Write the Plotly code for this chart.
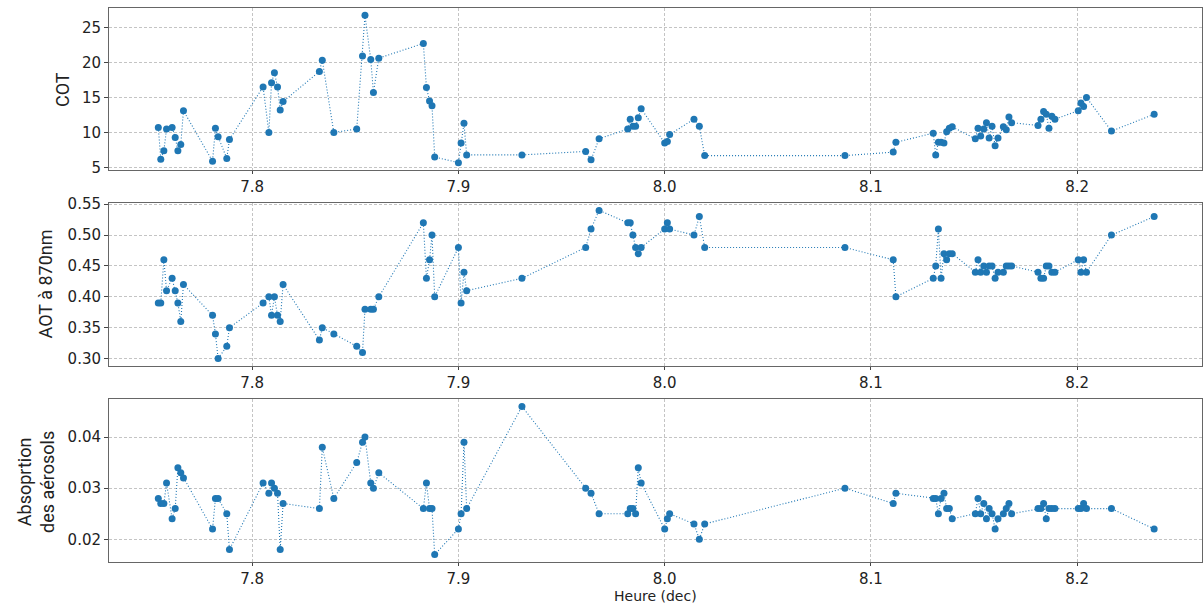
import plotly.graph_objects as go
from plotly.subplots import make_subplots

heure = [
    7.7545, 7.7557, 7.7572, 7.7585, 7.7612, 7.7627, 7.7640, 7.7654, 7.7667,
    7.7808, 7.7822, 7.7835, 7.7877, 7.7890,
    7.8053, 7.8081, 7.8094, 7.8108, 7.8123, 7.8136, 7.8150,
    7.8326, 7.8340, 7.8396, 7.8507, 7.8535, 7.8547, 7.8575, 7.8588, 7.8614,
    7.8830, 7.8845, 7.8860, 7.8872, 7.8885,
    7.9000, 7.9013, 7.9027, 7.9040, 7.9308,
    7.9617, 7.9643, 7.9682, 7.9821, 7.9833, 7.9846, 7.9859, 7.9872, 7.9886,
    8.0000, 8.0013, 8.0024, 8.0142, 8.0168, 8.0194,
    8.0874, 8.1108, 8.1121,
    8.1302, 8.1314, 8.1327, 8.1340, 8.1354, 8.1367, 8.1380, 8.1394,
    8.1506, 8.1519, 8.1532, 8.1547, 8.1560, 8.1573, 8.1587, 8.1602, 8.1616,
    8.1642, 8.1656, 8.1669, 8.1682,
    8.1810, 8.1824, 8.1837, 8.1850, 8.1863, 8.1877, 8.1892,
    8.2005, 8.2018, 8.2031, 8.2045,
    8.2166, 8.2373,
]

cot = [
    10.7, 6.2, 7.4, 10.5, 10.7, 9.3, 7.4, 8.3, 13.1,
    5.9, 10.6, 9.4, 6.3, 9.0,
    16.5, 10.0, 17.1, 18.5, 16.5, 13.2, 14.4,
    18.7, 20.3, 10.0, 10.5, 20.9, 26.7, 20.4, 15.7, 20.6,
    22.7, 16.4, 14.5, 13.8, 6.5,
    5.7, 8.5, 11.3, 6.8, 6.8,
    7.3, 6.1, 9.1, 10.5, 11.9, 10.9, 10.9, 12.1, 13.4,
    8.5, 8.7, 9.7, 11.9, 10.9, 6.7,
    6.7, 7.2, 8.6,
    9.9, 6.8, 8.6, 8.6, 8.5, 10.1, 10.6, 10.8,
    9.1, 10.6, 9.5, 10.5, 11.4, 9.2, 10.9, 8.1, 9.2,
    10.8, 10.4, 12.2, 11.4,
    11.0, 11.9, 13.0, 12.6, 10.6, 12.3, 11.9,
    13.1, 14.2, 13.7, 15.0,
    10.2, 12.6,
]

aot = [
    0.39, 0.39, 0.46, 0.41, 0.43, 0.41, 0.39, 0.36, 0.42,
    0.37, 0.34, 0.30, 0.32, 0.35,
    0.39, 0.40, 0.37, 0.40, 0.37, 0.36, 0.42,
    0.33, 0.35, 0.34, 0.32, 0.31, 0.38, 0.38, 0.38, 0.40,
    0.52, 0.43, 0.46, 0.50, 0.40,
    0.48, 0.39, 0.44, 0.41, 0.43,
    0.48, 0.51, 0.54, 0.52, 0.52, 0.50, 0.48, 0.47, 0.48,
    0.51, 0.52, 0.51, 0.50, 0.53, 0.48,
    0.48, 0.46, 0.40,
    0.43, 0.45, 0.51, 0.43, 0.47, 0.46, 0.47, 0.47,
    0.44, 0.46, 0.44, 0.45, 0.44, 0.45, 0.45, 0.43, 0.44,
    0.44, 0.45, 0.45, 0.45,
    0.44, 0.43, 0.43, 0.45, 0.45, 0.44, 0.44,
    0.46, 0.44, 0.46, 0.44,
    0.50, 0.53,
]

absorption = [
    0.028, 0.027, 0.027, 0.031, 0.024, 0.026, 0.034, 0.033, 0.032,
    0.022, 0.028, 0.028, 0.025, 0.018,
    0.031, 0.029, 0.031, 0.030, 0.029, 0.018, 0.027,
    0.026, 0.038, 0.028, 0.035, 0.039, 0.040, 0.031, 0.030, 0.033,
    0.026, 0.031, 0.026, 0.026, 0.017,
    0.022, 0.025, 0.039, 0.026, 0.046,
    0.030, 0.029, 0.025, 0.025, 0.026, 0.026, 0.025, 0.034, 0.031,
    0.022, 0.024, 0.025, 0.023, 0.020, 0.023,
    0.030, 0.027, 0.029,
    0.028, 0.028, 0.025, 0.028, 0.029, 0.026, 0.026, 0.024,
    0.025, 0.028, 0.025, 0.027, 0.024, 0.026, 0.025, 0.022, 0.024,
    0.025, 0.026, 0.027, 0.025,
    0.026, 0.026, 0.027, 0.024, 0.026, 0.026, 0.026,
    0.026, 0.026, 0.027, 0.026,
    0.026, 0.022,
]

x_ticks = [7.8, 7.9, 8.0, 8.1, 8.2]
x_ticklabels = ["7.8", "7.9", "8.0", "8.1", "8.2"]
cot_ticks = [5, 10, 15, 20, 25]
aot_ticks = [0.30, 0.35, 0.40, 0.45, 0.50, 0.55]
abs_ticks = [0.02, 0.03, 0.04]

y_titles = ["COT", "AOT à 870nm", "Absoprtion<br>des aérosols"]
x_title = "Heure (dec)"

BLUE = "#1f77b4"
W, H = 1203, 605
L, R, T, B = 109, 1, 8, 43
PH = H - T - B

def dom(top_px, bot_px):
    return [(H - B - bot_px) / PH, min(1.0, (H - B - top_px) / PH)]

fig = make_subplots(rows=3, cols=1)

series = [cot, aot, absorption]
for i, s in enumerate(series):
    fig.add_trace(
        go.Scatter(
            x=heure, y=s, mode="lines+markers",
            line=dict(color=BLUE, width=1.1, dash="1px,2px"),
            marker=dict(color=BLUE, size=7),
            showlegend=False,
        ),
        row=i + 1, col=1,
    )

domains = [dom(8, 170), dom(203, 366), dom(399, 562)]
yranges = [[4.65, 27.75], [0.288, 0.552], [0.01555, 0.04745]]
yticks = [cot_ticks, aot_ticks, abs_ticks]
yfmt = [None, "0.2f", "0.2f"]

axis_common = dict(
    showgrid=True, gridcolor="#c4c4c4", griddash="3px,2px", gridwidth=0.8,
    showline=True, linecolor="#666666", linewidth=1, mirror=True,
    ticks="outside", tickcolor="#444444", zeroline=False,
    automargin=False,
    tickfont=dict(family="DejaVu Sans", size=15, color="#222222"),
)

for i in range(3):
    xa = "xaxis" if i == 0 else f"xaxis{i+1}"
    ya = "yaxis" if i == 0 else f"yaxis{i+1}"
    xd = dict(range=[7.7306, 8.2605], tickvals=x_ticks, ticktext=x_ticklabels,
              ticklen=3, **axis_common)
    fig.layout[xa].update(**xd)
    yd = dict(range=yranges[i], tickvals=yticks[i], domain=domains[i],
              ticklen=4, **axis_common)
    if yfmt[i]:
        yd["tickformat"] = yfmt[i]
    fig.layout[ya].update(**yd)

def px_to_paper_x(px):
    return (px - L) / (W - L - R)

def py_to_paper_y(py):
    return (H - B - py) / PH

title_pos = [(62, 90), (44.5, 284), (36, 482)]
for t, (px, py) in zip(y_titles, title_pos):
    fig.add_annotation(
        text=t, xref="paper", yref="paper",
        x=px_to_paper_x(px), y=py_to_paper_y(py),
        xanchor="center", yanchor="middle", textangle=-90, showarrow=False,
        font=dict(family="Liberation Sans Narrow, Roboto, sans-serif", size=18, color="#222222"),
    )

fig.add_annotation(
    text=x_title, xref="paper", yref="paper",
    x=px_to_paper_x(655), y=py_to_paper_y(596),
    xanchor="center", yanchor="middle", showarrow=False,
    font=dict(family="DejaVu Sans", size=14, color="#222222"),
)

fig.update_layout(
    width=W, height=H,
    margin=dict(l=L, r=R, t=T, b=B, autoexpand=False),
    paper_bgcolor="white", plot_bgcolor="white",
)

post = (
    "document.documentElement.style.margin='0';"
    "document.body.style.margin='0';document.body.style.padding='0';"
    "document.body.style.overflow='hidden';"
    "var gd=document.getElementById('{plot_id}');"
    "Plotly.relayout(gd,{width:%d,height:%d});" % (W, H)
)

fig.write_html("out.html", post_script=post,
               config={"responsive": False, "displayModeBar": False})
